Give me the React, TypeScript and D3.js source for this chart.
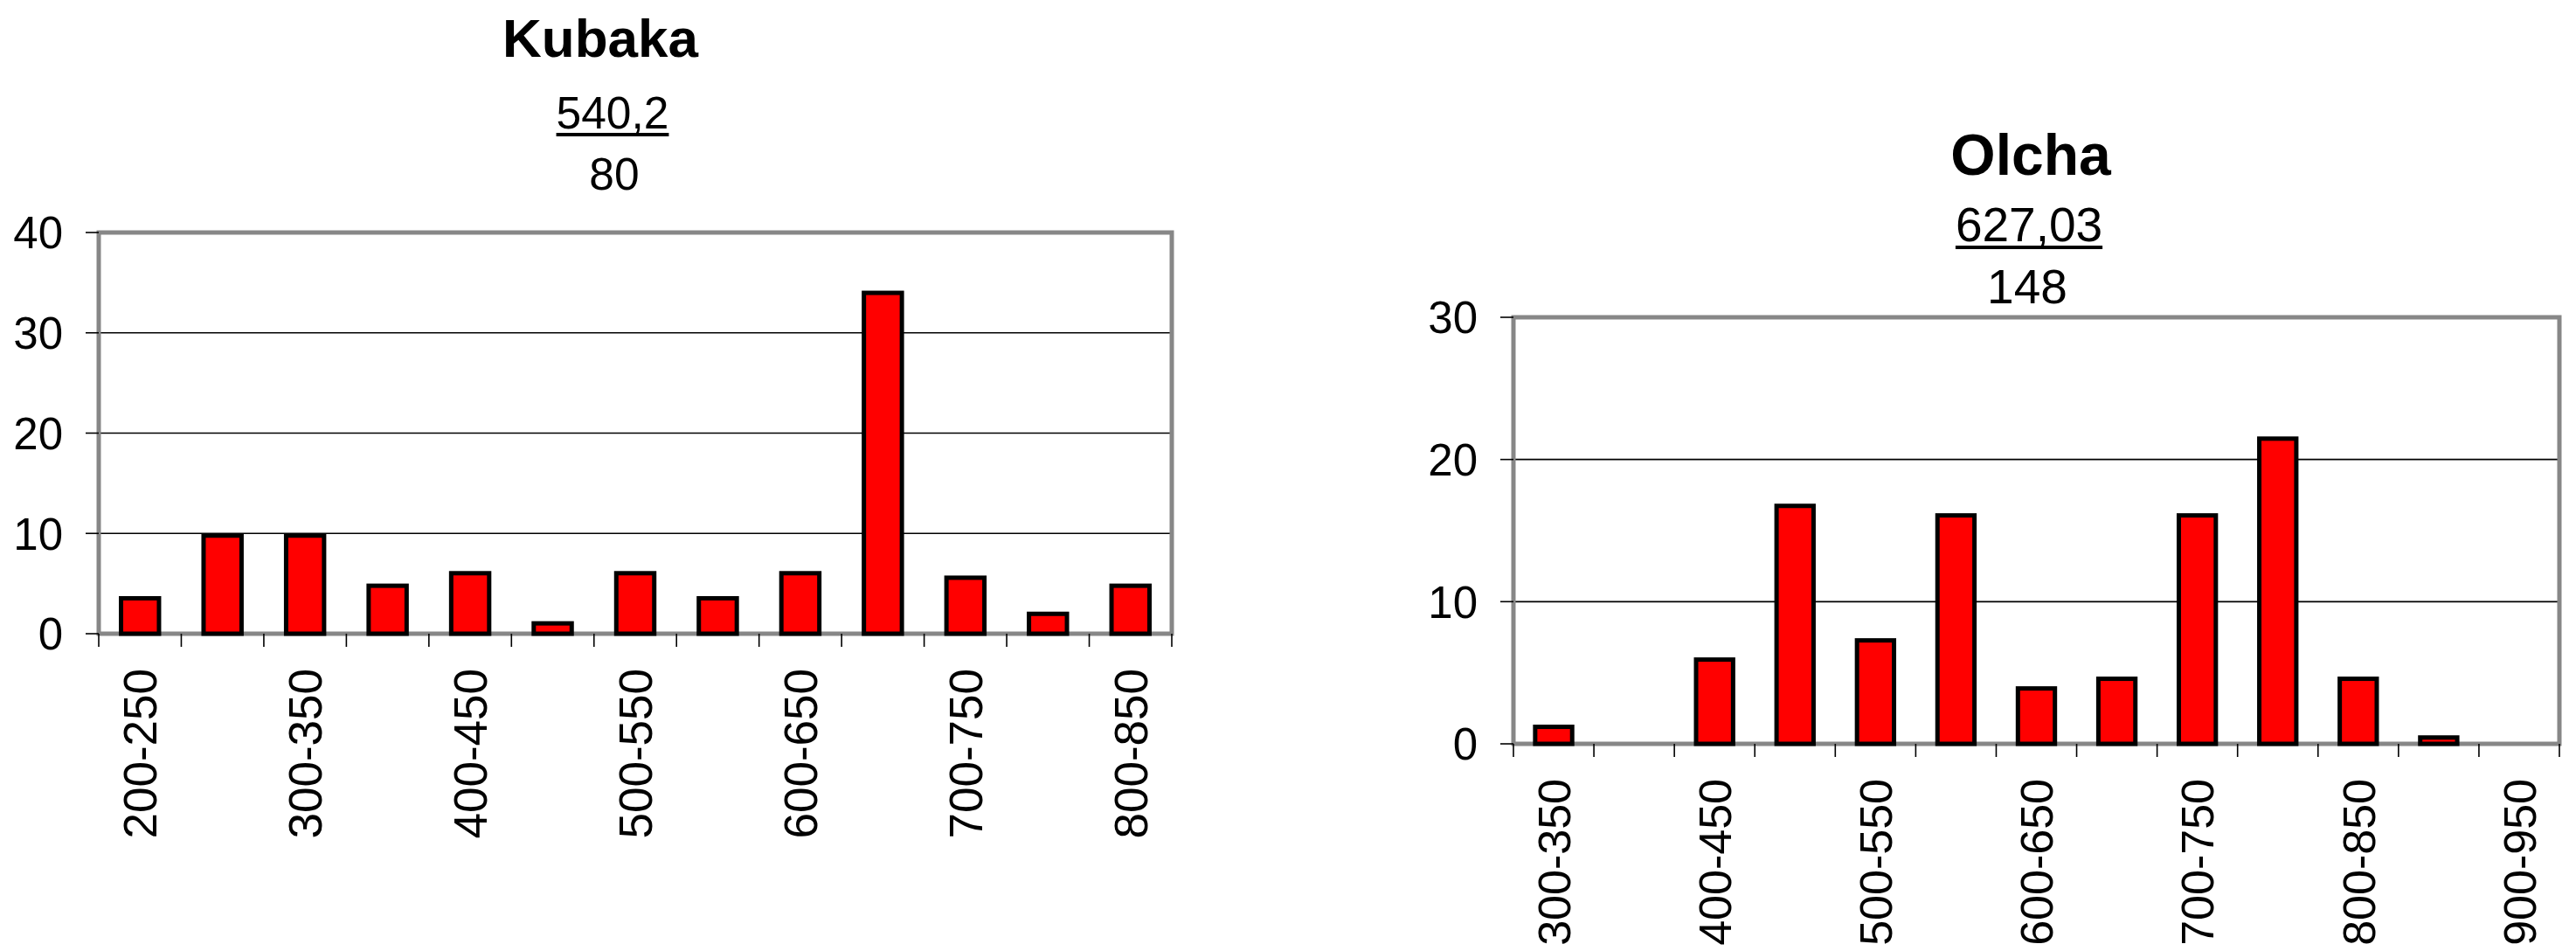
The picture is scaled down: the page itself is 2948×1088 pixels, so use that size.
import React from "react";
import * as d3 from "d3";

const kubakaCategories = ["200-250","250-300","300-350","350-400","400-450","450-500","500-550","550-600","600-650","650-700","700-750","750-800","800-850"];
const kubakaValues = [3.75, 10, 10, 5, 6.25, 1.25, 6.25, 3.75, 6.25, 34.2, 5.8, 2.2, 5];
const kubakaTicks = [0, 10, 20, 30, 40];
const kubakaTitle = "Kubaka";
const kubakaMean = "540,2";
const kubakaCount = "80";

const olchaCategories = ["300-350","350-400","400-450","450-500","500-550","550-600","600-650","650-700","700-750","750-800","800-850","850-900","900-950"];
const olchaValues = [1.35, 0, 6.08, 16.89, 7.43, 16.22, 4.05, 4.73, 16.22, 21.62, 4.73, 0.6, 0];
const olchaTicks = [0, 10, 20, 30];
const olchaTitle = "Olcha";
const olchaMean = "627,03";
const olchaCount = "148";

const FONT = "'Liberation Sans', Arial, sans-serif";

type HistProps = {
  categories: string[];
  values: number[];
  ticks: number[];
  title: string;
  mean: string;
  count: string;
  left: number;
  right: number;
  top: number;
  bottom: number;
  titleX: number;
  titleY: number;
  titleSize: number;
  meanX: number;
  meanY: number;
  countX: number;
  countY: number;
  subSize: number;
  labelSize: number;
};

function Histogram(p: HistProps) {
  const x = d3.scaleBand<string>().domain(p.categories).range([p.left, p.right]).padding(0);
  const maxT = p.ticks[p.ticks.length - 1];
  const y = d3.scaleLinear().domain([0, maxT]).range([p.bottom, p.top]);
  const bw = x.bandwidth();
  const barW = bw * 0.46;
  const boundaries = p.categories.map((c) => x(c) as number).concat([p.right]);

  const meanW = p.mean.length * 0.556 * p.subSize - (p.mean.includes(",") ? (0.556 - 0.278) * p.subSize : 0);

  return (
    <g>
      <text x={p.titleX} y={p.titleY} textAnchor="middle" fontFamily={FONT} fontWeight="bold" fontSize={p.titleSize} fill="#000">{p.title}</text>
      <text x={p.meanX} y={p.meanY} textAnchor="middle" fontFamily={FONT} fontSize={p.subSize} fill="#000">{p.mean}</text>
      <line x1={p.meanX - meanW / 2} x2={p.meanX + meanW / 2} y1={p.meanY + 7} y2={p.meanY + 7} stroke="#000" strokeWidth={4} />
      <text x={p.countX} y={p.countY} textAnchor="middle" fontFamily={FONT} fontSize={p.subSize} fill="#000">{p.count}</text>

      {p.ticks.filter((t) => t !== 0 && t !== maxT).map((t) => (
        <line key={"g" + t} x1={p.left} x2={p.right} y1={y(t)} y2={y(t)} stroke="#000" strokeWidth={1.6} />
      ))}

      <rect x={p.left} y={p.top} width={p.right - p.left} height={p.bottom - p.top} fill="none" stroke="#878787" strokeWidth={5} />

      {p.ticks.map((t) => (
        <g key={"t" + t}>
          <line x1={p.left - 15} x2={p.left} y1={y(t)} y2={y(t)} stroke="#000" strokeWidth={1.6} />
          <text x={p.left - 41} y={y(t)} dy="0.36em" textAnchor="end" fontFamily={FONT} fontSize={51} fill="#000">{t}</text>
        </g>
      ))}

      {boundaries.map((b, i) => (
        <line key={"xt" + i} x1={b} x2={b} y1={p.bottom} y2={p.bottom + 15} stroke="#000" strokeWidth={1.6} />
      ))}

      {p.categories.map((c, i) => {
        const v = p.values[i];
        if (v <= 0) return null;
        const cx = (x(c) as number) + bw / 2;
        return (
          <rect key={"b" + c} x={cx - barW / 2} y={y(v) + 2.5} width={barW} height={p.bottom - y(v) - 2.5}
            fill="#FF0000" stroke="#000" strokeWidth={5} />
        );
      })}

      {p.categories.map((c, i) => {
        if (i % 2 !== 0) return null;
        const cx = (x(c) as number) + bw / 2;
        const ly = p.bottom + 40;
        return (
          <text key={"l" + c} transform={`translate(${cx},${ly}) rotate(-90)`} dy="0.36em" textAnchor="end"
            fontFamily={FONT} fontSize={p.labelSize} fill="#000">{c}</text>
        );
      })}
    </g>
  );
}

export default function App() {
  return (
    <svg width={2948} height={1088} style={{ position: "absolute", left: 0, top: 0, background: "#fff" }}>
      <rect x={0} y={0} width={2948} height={1088} fill="#fff" />
      <Histogram
        categories={kubakaCategories} values={kubakaValues} ticks={kubakaTicks}
        title={kubakaTitle} mean={kubakaMean} count={kubakaCount}
        left={113} right={1341} top={266} bottom={725}
        titleX={687} titleY={65} titleSize={62}
        meanX={701} meanY={147} countX={703} countY={217} subSize={51.5}
        labelSize={53}
      />
      <Histogram
        categories={olchaCategories} values={olchaValues} ticks={olchaTicks}
        title={olchaTitle} mean={olchaMean} count={olchaCount}
        left={1732} right={2929} top={363} bottom={851}
        titleX={2324} titleY={200} titleSize={66}
        meanX={2322} meanY={276} countX={2320} countY={347} subSize={55}
        labelSize={52}
      />
    </svg>
  );
}
